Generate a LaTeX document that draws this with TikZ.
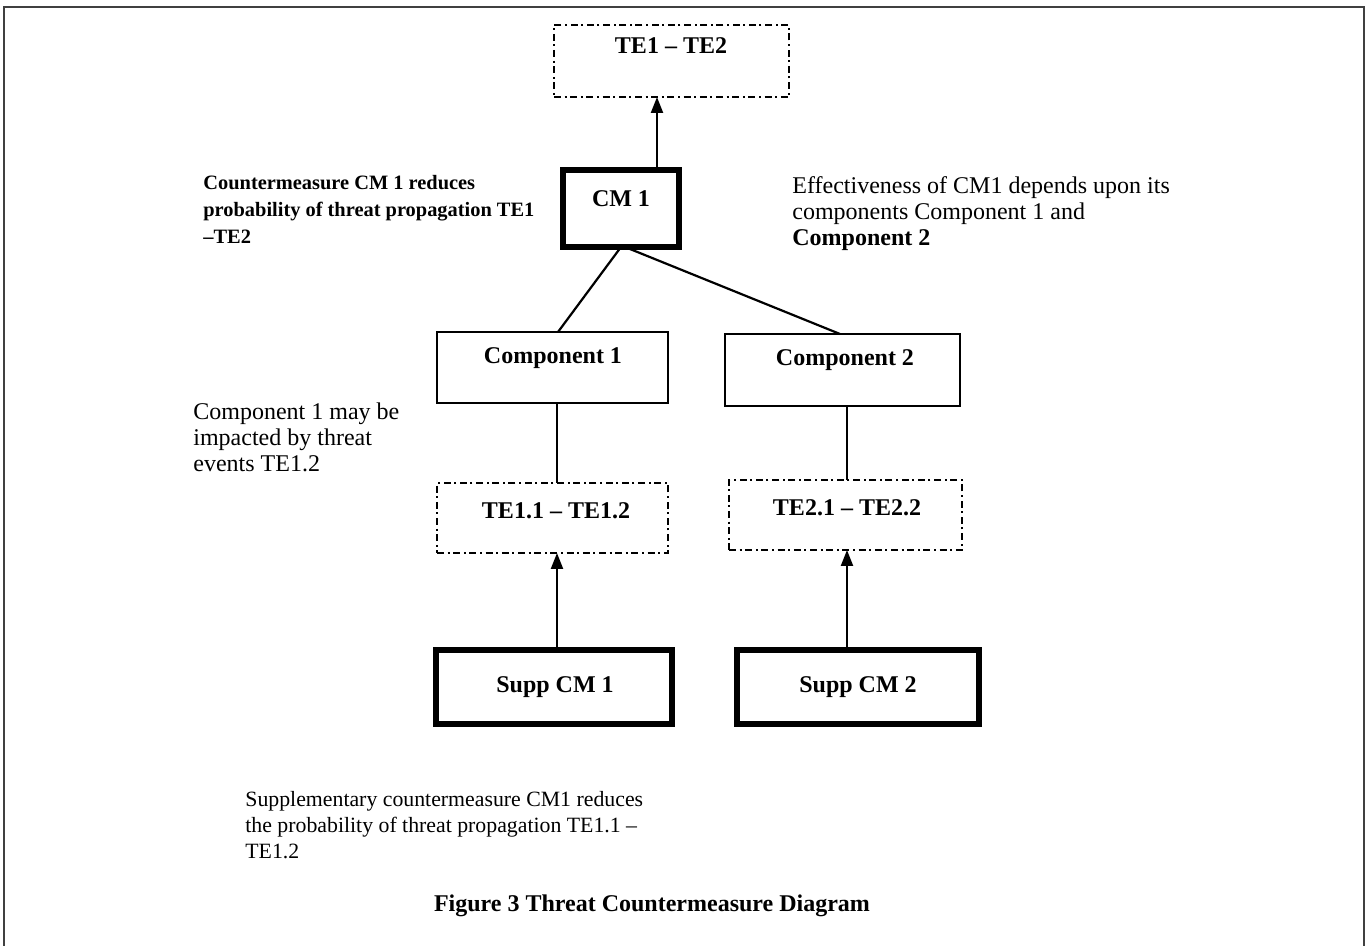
\documentclass[tikz,border=0pt]{standalone}
\usepackage{fontspec}
\setmainfont{Liberation Serif}
\usetikzlibrary{arrows.meta}

\begin{document}
\begin{tikzpicture}[x=0.5pt,y=-0.5pt,
  box/.style={rectangle, draw=black, inner sep=0pt, outer sep=0pt},
  plainbox/.style={box, line width=1pt},
  heavybox/.style={box, line width=2.8pt},
  ddbox/.style={box, line width=0.9pt, dash pattern=on 3.5pt off 1.8pt on 1pt off 1.8pt},
  lbl/.style={font=\fontsize{12}{14}\selectfont\bfseries, inner sep=0pt},
  note/.style={font=\fontsize{12}{13}\selectfont, align=left, anchor=north west, inner sep=0pt},
  boldnote/.style={font=\fontsize{10.2}{13.5}\selectfont\bfseries, align=left, anchor=north west, inner sep=0pt},
  link/.style={line width=1.1pt},
  arr/.style={line width=1.1pt, -{Triangle[width=6pt,length=8pt]}},
]
\useasboundingbox (0,0) rectangle (1367,946);
\fill[white] (0,0) rectangle (1367,946);
% frame, open at the bottom
\draw[line width=1.2pt, black!75] (4,946) -- (4,7) -- (1364,7) -- (1364,946);

% boxes
\node[ddbox, minimum width=117.5pt, minimum height=36pt] (te) at (671.5,61) {};
\node[lbl] (tetxt) at (671,46) {TE1 -- TE2};

\node[heavybox, minimum width=58pt, minimum height=38.5pt] (cm) at (621,208.5) {};
\node[lbl] (cmtxt) at (621,199) {CM 1};

\node[plainbox, minimum width=115.5pt, minimum height=35.5pt] (c1) at (552.5,367.5) {};
\node[lbl] (c1txt) at (553,358) {Component 1};

\node[plainbox, minimum width=117.5pt, minimum height=36pt] (c2) at (842.5,370) {};
\node[lbl] (c2txt) at (845,360) {Component 2};

\node[ddbox, minimum width=115.5pt, minimum height=35pt] (t1) at (552.5,518) {};
\node[lbl] (t1txt) at (556,511) {TE1.1 -- TE1.2};

\node[ddbox, minimum width=116.5pt, minimum height=35pt] (t2) at (845.5,515) {};
\node[lbl] (t2txt) at (847,508) {TE2.1 -- TE2.2};

\node[heavybox, minimum width=118pt, minimum height=37pt] (s1) at (554,687) {};
\node[lbl] (s1txt) at (555,687) {Supp CM 1};

\node[heavybox, minimum width=121pt, minimum height=37pt] (s2) at (858,687) {};
\node[lbl] (s2txt) at (858,687) {Supp CM 2};

% connectors
\coordinate (ax0) at (657,0);
\coordinate (ax1) at (557,0);
\coordinate (ax2) at (847,0);
\draw[arr] (cm.north -| ax0) -- (te.south -| ax0);
\draw[link] (cm.south) -- ([xshift=2.75pt]c1.north);
\draw[link] ([xshift=2pt]cm.south) -- ([xshift=-1.25pt]c2.north);
\draw[link] (c1.south -| ax1) -- (t1.north -| ax1);
\draw[link] (c2.south -| ax2) -- (t2.north -| ax2);
\draw[arr] (s1.north -| ax1) -- (t1.south -| ax1);
\draw[arr] (s2.north -| ax2) -- (t2.south -| ax2);

% annotations
\node[boldnote] (n1) at (203,175) {Countermeasure CM 1 reduces\\probability of threat propagation TE1\\--TE2};
\node[note] (n2) at (792,176) {Effectiveness of CM1 depends upon its\\components Component 1 and\\\textbf{Component 2}};
\node[note] (n3) at (193,402) {Component 1 may be\\impacted by threat\\events TE1.2};
\node[note, font=\fontsize{10.9}{13}\selectfont] (n4) at (245,791) {Supplementary countermeasure CM1 reduces\\the probability of threat propagation TE1.1 --\\TE1.2};
\node[lbl, anchor=base] (cap) at (652,911) {Figure 3 Threat Countermeasure Diagram};
\end{tikzpicture}
\end{document}
